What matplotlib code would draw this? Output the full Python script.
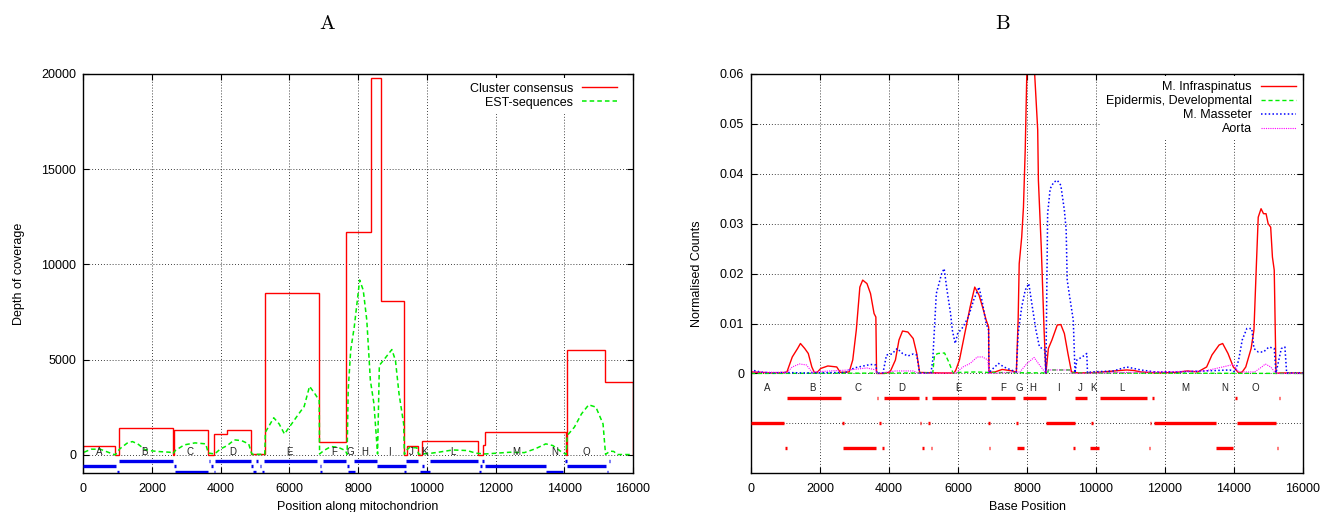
import matplotlib
matplotlib.use("Agg")
from matplotlib import pyplot as plt

plt.rcParams["font.family"] = ["Liberation Sans", "DejaVu Sans"]
plt.rcParams["font.size"] = 9
plt.rcParams["mathtext.fontset"] = "cm"

# Panel A: cluster consensus (step) and EST coverage
cluster_edges = [0, 930, 1030, 2600, 2640, 3640, 3800, 4170, 4890, 5280, 6870, 7650, 8380,
                 8670, 9330, 9430, 9740, 9850, 11480, 11640, 11690, 14060, 14090, 15180, 16000]
cluster_depth = [450, 0, 1400, 0, 1300, 0, 1100, 1330, 70, 8500, 700, 11700, 19800,
                 8100, 0, 450, 0, 750, 0, 500, 1200, 0, 5500, 3850]

est_x = [20, 229, 489, 927, 1062, 1271, 1427, 1583, 1792, 2000, 2208, 2521, 2604,
         2677, 2938, 3250, 3563, 3636, 3824, 3980, 4188, 4397, 4605, 4813, 4886, 4918,
         5282, 5300, 5543, 5699, 5855, 6064, 6272, 6428, 6585, 6741, 6866, 6877,
         7002, 7210, 7418, 7627, 7679, 7710, 7783, 7887, 8044, 8148, 8252, 8356, 8460, 8565,
         8617, 8773, 8981, 9086, 9190, 9325, 9346, 9398, 9502, 9711, 9763,
         9867, 10128, 10336, 10753, 11170, 11430, 11691, 12420, 12837, 13149, 13462,
         13670, 13931, 14056, 14087, 14296, 14504, 14712, 14921, 15129, 15202,
         15338, 15442, 15546, 15963]
est_depth = [140, 300, 300, 0, 320, 614, 700, 580, 280, 210, 175, 140, 50,
             230, 526, 631, 580, 100, 50, 300, 490, 790, 750, 580, 140, 30,
             30, 1190, 1950, 1630, 1100, 1630, 2160, 2540, 3600, 3210, 2860, 50,
             230, 440, 400, 230, 30, 3390, 5490, 6720, 9180, 8650, 7070, 3910, 2680, 50,
             4700, 5050, 5530, 4960, 3210, 1630, 30, 230, 400, 370, 30,
             50, 90, 140, 260, 230, 90, 50, 140, 120, 315, 580,
             490, 140, 30, 1020, 1460, 2160, 2630, 2510, 1630, 30,
             200, 180, 20, 20]

# Panel B: normalised counts per tissue
infra_x = [0, 300, 600, 990, 1041, 1196, 1350, 1433, 1557, 1660, 1763, 1835, 1918, 2021, 2227,
           2485, 2588, 2845, 2949, 3052, 3155, 3237, 3361, 3464, 3567, 3619, 3639, 3876, 4031,
           4186, 4289, 4392, 4547, 4701, 4804, 4887, 5500, 5887, 5938, 6042, 6196, 6351, 6485,
           6609, 6712, 6815, 6887, 6897, 7073, 7279, 7588, 7691, 7743, 7774, 7846, 7897, 7949,
           8000, 8100, 8206, 8310, 8330, 8413, 8495, 8547, 8619, 8722, 8877, 8980, 9083, 9186,
           9289, 9500, 10000, 10887, 11093, 11300, 11712, 12331, 12640, 12949, 13207, 13361,
           13568, 13671, 13826, 13980, 14135, 14238, 14341, 14496, 14578, 14650, 14702, 14784,
           14856, 14929, 14990, 15063, 15114, 15166, 15217, 15320, 16000]
infra_y = [0.0003, 0.0002, 0.0001, 0.0002, 0.0003, 0.0033, 0.005, 0.006, 0.005, 0.004, 0.0013,
           0.0002, 0.0002, 0.001, 0.0015, 0.0013, 0.0002, 0.0003, 0.0027, 0.0087, 0.0173, 0.0187,
           0.018, 0.016, 0.012, 0.0113, 0.0, 0.0, 0.0003, 0.0027, 0.0067, 0.0085, 0.0083, 0.007,
           0.004, 0.0002, 0.0001, 0.0001, 0.0007, 0.0027, 0.008, 0.0133, 0.0173, 0.0157, 0.0133,
           0.0107, 0.0093, 0.0002, 0.0003, 0.0008, 0.0005, 0.0002, 0.0107, 0.022, 0.0273, 0.0333,
           0.045, 0.062, 0.075, 0.062, 0.0488, 0.0387, 0.0253, 0.0087, 0.0, 0.005, 0.0067, 0.0097,
           0.0098, 0.008, 0.004, 0.0003, 0.0001, 0.0002, 0.0007, 0.0006, 0.0003, 0.0001, 0.0002,
           0.0005, 0.0003, 0.0013, 0.0037, 0.0057, 0.006, 0.004, 0.0013, 0.0001, 0.0003, 0.0013,
           0.005, 0.0087, 0.022, 0.0313, 0.033, 0.032, 0.032, 0.03, 0.0293, 0.0233, 0.0207, 0.0,
           0.0001, 0.0001]

epi_x = [0, 5268, 5320, 5423, 5609, 5732, 5856, 6042, 6500, 6887, 8598, 8619, 9238, 9300, 16000]
epi_y = [0.0, 0.0001, 0.0037, 0.004, 0.0041, 0.0023, 0.0001, 0.0002, 0.0003, 0.0002,
         0.0001, 0.0007, 0.0007, 0.0001, 0.0]

mass_x = [0, 10, 268, 577, 990, 1500, 2742, 2845, 3052, 3258, 3464, 3619, 3650, 3825, 3928,
          4083, 4237, 4392, 4547, 4701, 4804, 4887, 5217, 5268, 5371, 5526, 5598, 5681, 5784,
          5835, 5918, 5990, 6145, 6299, 6454, 6609, 6712, 6815, 6887, 6897, 6970, 7176, 7330,
          7536, 7691, 7743, 7846, 7949, 8052, 8155, 8258, 8361, 8516, 8547, 8598, 8671, 8774,
          8877, 8980, 9083, 9135, 9165, 9238, 9341, 9392, 9444, 9598, 9733, 9753, 9856, 10500,
          10887, 11300, 11712, 12331, 13155, 13877, 14032, 14135, 14238, 14372, 14516, 14578,
          14702, 14856, 15011, 15166, 15217, 15372, 15475, 15526, 16000]
mass_y = [0.0005, 0.0007, 0.0003, 0.0001, 0.0002, 0.0001, 0.0002, 0.0007, 0.0012, 0.0015,
          0.0018, 0.0017, 0.0, 0.0001, 0.0037, 0.0039, 0.005, 0.004, 0.0035, 0.0039, 0.0037,
          0.0001, 0.0001, 0.0027, 0.016, 0.02, 0.021, 0.0167, 0.012, 0.0087, 0.006, 0.008,
          0.0093, 0.0113, 0.0147, 0.0173, 0.014, 0.01, 0.0087, 0.0001, 0.0007, 0.002, 0.0013,
          0.0007, 0.0003, 0.008, 0.0133, 0.0167, 0.018, 0.0133, 0.0087, 0.0053, 0.0047, 0.0,
          0.032, 0.037, 0.0383, 0.0387, 0.0377, 0.0327, 0.0287, 0.0187, 0.0153, 0.0107, 0.0001,
          0.0027, 0.0033, 0.004, 0.0001, 0.0003, 0.0005, 0.0013, 0.0007, 0.0003, 0.0003, 0.0005,
          0.0007, 0.0003, 0.0027, 0.0067, 0.009, 0.009, 0.005, 0.0043, 0.0043, 0.0053, 0.005,
          0.0001, 0.005, 0.0053, 0.0001, 0.0001]

aorta_x = [0, 1041, 1196, 1402, 1608, 1763, 2845, 3361, 3619, 3639, 4186, 4701, 4887, 5938,
           6145, 6351, 6557, 6712, 6866, 6897, 7794, 8000, 8206, 8361, 8516, 8619, 9238, 9300,
           13155, 13671, 13980, 14135, 14599, 14805, 14908, 15063, 15217, 16000]
aorta_y = [0.0003, 0.0002, 0.0013, 0.0019, 0.0017, 0.0003, 0.0007, 0.0011, 0.0007, 0.0,
           0.0005, 0.0005, 0.0, 0.0001, 0.0013, 0.002, 0.0033, 0.0033, 0.0027, 0.0, 0.0003,
           0.002, 0.0032, 0.0017, 0.0003, 0.0007, 0.0007, 0.0, 0.0005, 0.0013, 0.0018, 0.0003,
           0.0003, 0.0013, 0.0019, 0.0013, 0.0, 0.0]

# mitochondrial genes, three rows
gene_row1 = [(1040, 2600), (3650, 3690), (3846, 4870), (5040, 5090), (5255, 6810), (6965, 7645),
             (7870, 8540), (9405, 9750), (10105, 11478), (11620, 11670), (14030, 14075), (15290, 15340)]
gene_row2 = [(0, 955), (2650, 2690), (3720, 3770), (4890, 4935), (5140, 5185), (6875, 6920),
             (7680, 7730), (8545, 9380), (9860, 9905), (11560, 11605), (11680, 13470), (14075, 15210)]
gene_row3 = [(985, 1030), (2680, 3636), (3805, 3845), (4945, 5020), (5205, 5250), (6895, 6940),
             (7712, 7915), (9345, 9395), (9815, 10080), (11530, 11575), (13465, 13975), (15235, 15275)]
gene_names = ["A", "B", "C", "D", "E", "F", "G", "H", "I", "J", "K", "L", "M", "N", "O"]
gene_label_x = [460, 1770, 3110, 4360, 6010, 7300, 7780, 8180, 8920, 9550, 9940, 10760, 12600, 13730, 14630]

xticks = [0, 2000, 4000, 6000, 8000, 10000, 12000, 14000, 16000]
yticks_a = [0, 5000, 10000, 15000, 20000]
yticks_b = [0, 0.01, 0.02, 0.03, 0.04, 0.05, 0.06]
yticklabels_b = ["0", "0.01", "0.02", "0.03", "0.04", "0.05", "0.06"]

fig = plt.figure(figsize=(13.25, 5.12), dpi=100)
ax_a = fig.add_axes([0.0629, 0.0756, 0.4148, 0.78])
ax_b = fig.add_axes([0.5668, 0.0756, 0.4166, 0.78])


def style_axes(ax):
    ax.set_xlim(0, 16000)
    ax.set_xticks(xticks)
    ax.tick_params(direction="in", top=True, right=True, length=4, width=0.8, labelsize=9)
    ax.tick_params(axis="x", pad=7)
    ax.tick_params(axis="y", pad=5)
    ax.grid(True, color="black", linestyle=(0, (1, 2.5)), linewidth=0.6)
    ax.set_axisbelow(True)
    for sp in ax.spines.values():
        sp.set_linewidth(1.0)


def draw_genes(ax, rows_y, color, label_y):
    for row, y in zip([gene_row1, gene_row2, gene_row3], rows_y):
        ax.hlines([y] * len(row), [s for s, e in row], [e for s, e in row],
                  colors=color, linewidth=2.4, zorder=3)
    for name, x in zip(gene_names, gene_label_x):
        ax.text(x, label_y, name, ha="center", va="center", fontsize=7, color="#222222", zorder=4)


# ---- A ----
style_axes(ax_a)
ax_a.set_ylim(-965, 20000)
ax_a.set_yticks(yticks_a)
ax_a.stairs(cluster_depth, cluster_edges, color="#ff0000", linewidth=1.0, label="Cluster consensus")
ax_a.plot(est_x, est_depth, color="#00ee00", linestyle=(0, (3, 2)), linewidth=1.1, label="EST-sequences")
draw_genes(ax_a, [-300, -580, -880], "#0000ee", 140)
ax_a.set_xlabel("Position along mitochondrion", fontsize=9, labelpad=4)
ax_a.set_ylabel("Depth of coverage", fontsize=9, labelpad=12)
ax_a.legend(loc="upper right", bbox_to_anchor=(0.987, 1.0), markerfirst=False, frameon=True,
            fancybox=False, edgecolor="none", framealpha=1, fontsize=9, handlelength=2.8,
            handletextpad=0.7, labelspacing=0.15, borderpad=0.4, borderaxespad=0.3)

# ---- B ----
style_axes(ax_b)
ax_b.set_ylim(-0.02, 0.06)
ax_b.set_yticks(yticks_b)
ax_b.set_yticklabels(yticklabels_b)
ax_b.axhline(-0.01, color="black", linestyle=(0, (1, 2.5)), linewidth=0.6, zorder=0)
ax_b.plot(infra_x, infra_y, color="#ff0000", linewidth=1.0, label="M. Infraspinatus")
ax_b.plot(epi_x, epi_y, color="#00ee00", linestyle=(0, (3, 2)), linewidth=1.0,
          label="Epidermis, Developmental")
ax_b.plot(mass_x, mass_y, color="#0000ff", linestyle=(0, (1, 1.5)), linewidth=1.1, label="M. Masseter")
ax_b.plot(aorta_x, aorta_y, color="#ff00ff", linestyle=(0, (1, 1)), linewidth=0.8, label="Aorta")
draw_genes(ax_b, [-0.005, -0.01, -0.015], "#ff0000", -0.0029)
ax_b.set_xlabel("Base Position", fontsize=9, labelpad=4)
ax_b.set_ylabel("Normalised Counts", fontsize=9, labelpad=12)
ax_b.legend(loc="upper right", markerfirst=False, frameon=True, fancybox=False,
            edgecolor="none", framealpha=1, fontsize=9, handlelength=2.8,
            handletextpad=0.7, labelspacing=0.15, borderpad=0.4, borderaxespad=0.2)

fig.text(0.2468, 0.955, r"$\mathrm{A}$", ha="center", va="center", fontsize=15)
fig.text(0.757, 0.955, r"$\mathrm{B}$", ha="center", va="center", fontsize=15)

fig.savefig("out.png", dpi=100)
